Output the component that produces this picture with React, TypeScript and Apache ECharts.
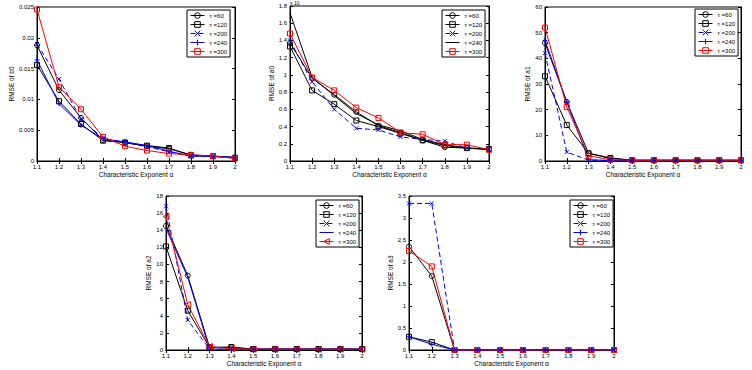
import React, { useEffect, useRef } from "react";
import * as echarts from "echarts";

const alphaLabels = ["1.1", "1.2", "1.3", "1.4", "1.5", "1.6", "1.7", "1.8", "1.9", "2"];
const tauLabels = ["τ =60", "τ =120", "τ =200", "τ =240", "τ =300"];

// RMSE of b0
const b0Tau60 = [0.0188, 0.0115, 0.007, 0.0034, 0.003, 0.0024, 0.002, 0.001, 0.0008, 0.0006];
const b0Tau120 = [0.0156, 0.0097, 0.006, 0.0033, 0.003, 0.0025, 0.0021, 0.0009, 0.0008, 0.0005];
const b0Tau200 = [0.019, 0.0133, 0.0068, 0.0037, 0.003, 0.0023, 0.0015, 0.0008, 0.0007, 0.0006];
const b0Tau240 = [0.0164, 0.0093, 0.0058, 0.0036, 0.0031, 0.0025, 0.0016, 0.0008, 0.0007, 0.0006];
const b0Tau300 = [0.0246, 0.012, 0.0084, 0.0039, 0.0024, 0.0017, 0.0012, 0.001, 0.0008, 0.0004];

// RMSE of a0 (x 10^-3)
const a0Tau60 = [1.37, 0.96, 0.77, 0.57, 0.41, 0.33, 0.24, 0.16, 0.15, 0.13];
const a0Tau120 = [1.33, 0.82, 0.66, 0.47, 0.4, 0.32, 0.24, 0.18, 0.15, 0.14];
const a0Tau200 = [1.4, 0.92, 0.6, 0.38, 0.36, 0.28, 0.25, 0.23, 0.15, 0.14];
const a0Tau240 = [1.72, 0.97, 0.76, 0.55, 0.42, 0.35, 0.25, 0.19, 0.15, 0.14];
const a0Tau300 = [1.48, 0.97, 0.82, 0.62, 0.5, 0.33, 0.31, 0.19, 0.19, 0.13];

// RMSE of a1
const a1Tau60 = [46, 23, 3, 1, 0.3, 0.3, 0.3, 0.3, 0.3, 0.3];
const a1Tau120 = [33, 14, 3, 1.2, 0.3, 0.3, 0.3, 0.3, 0.3, 0.3];
const a1Tau200 = [42, 3.5, 0.3, 0.2, 0.2, 0.2, 0.2, 0.2, 0.2, 0.2];
const a1Tau240 = [47, 23, 0.5, 0.2, 0.2, 0.2, 0.2, 0.2, 0.2, 0.2];
const a1Tau300 = [52, 21, 2, 0.5, 0.3, 0.3, 0.3, 0.3, 0.3, 0.3];

// RMSE of a2
const a2Tau60 = [14.5, 8.7, 0.3, 0.3, 0.1, 0.1, 0.1, 0.1, 0.1, 0.1];
const a2Tau120 = [12.1, 4.6, 0.3, 0.35, 0.1, 0.1, 0.1, 0.1, 0.1, 0.1];
const a2Tau200 = [16.8, 3.5, 0.1, 0.1, 0.1, 0.1, 0.1, 0.1, 0.1, 0.1];
const a2Tau240 = [14.2, 8.5, 0.1, 0.1, 0.1, 0.1, 0.1, 0.1, 0.1, 0.1];
const a2Tau300 = [15.6, 5.3, 0.4, 0.15, 0.1, 0.1, 0.1, 0.1, 0.1, 0.1];

// RMSE of a3
const a3Tau60 = [2.35, 1.68, 0, 0, 0, 0, 0, 0, 0, 0];
const a3Tau120 = [0.3, 0.18, 0, 0, 0, 0, 0, 0, 0, 0];
const a3Tau200 = [3.33, 3.33, 0, 0, 0, 0, 0, 0, 0, 0];
const a3Tau240 = [0.3, 0.13, 0, 0, 0, 0, 0, 0, 0, 0];
const a3Tau300 = [2.25, 1.9, 0, 0, 0, 0, 0, 0, 0, 0];

const FONT = "Liberation Sans, Arial, Helvetica, sans-serif";
const BLACK = "#000000";
const BLUE = "#0000ff";
const RED = "#ff0000";
const CLEAR = "rgba(255,255,255,0)";

const X_MARK = "path://M0,0L10,10M10,0L0,10";
const PLUS = "path://M5,0L5,10M0,5L10,5";
const TRI_LEFT = "path://M0,5L10,0L10,10Z";
const NO_MARK = "path://M0,0L1,1";

type Style = { color: string; dashed: boolean; symbol: string; size: number };

const baseStyles: Style[] = [
  { color: BLACK, dashed: false, symbol: "circle", size: 5 },
  { color: BLACK, dashed: false, symbol: "rect", size: 5 },
  { color: BLUE, dashed: true, symbol: X_MARK, size: 4 },
  { color: BLUE, dashed: false, symbol: PLUS, size: 5 },
  { color: RED, dashed: false, symbol: "rect", size: 5 },
];

const panels = [
  {
    key: "b0", yName: "RMSE of b0", min: 0, max: 0.025, interval: 0.005,
    grid: { left: 37, top: 7, width: 198, height: 154 }, nameGap: 20,
    legend: { left: 187, top: 10 },
    data: [b0Tau60, b0Tau120, b0Tau200, b0Tau240, b0Tau300],
    styles: baseStyles,
  },
  {
    key: "a0", yName: "RMSE of a0", min: 0, max: 1.8, interval: 0.2,
    grid: { left: 290, top: 6, width: 199, height: 155 }, nameGap: 13,
    legend: { left: 442, top: 10 },
    data: [a0Tau60, a0Tau120, a0Tau200, a0Tau240, a0Tau300],
    styles: [baseStyles[0], baseStyles[1], baseStyles[2], { color: BLACK, dashed: false, symbol: NO_MARK, size: 5 }, baseStyles[4]],
  },
  {
    key: "a1", yName: "RMSE of a1", min: 0, max: 60, interval: 10,
    grid: { left: 545, top: 7, width: 196, height: 154 }, nameGap: 12,
    legend: { left: 695, top: 9 },
    data: [a1Tau60, a1Tau120, a1Tau200, a1Tau240, a1Tau300],
    styles: baseStyles,
  },
  {
    key: "a2", yName: "RMSE of a2", min: 0, max: 18, interval: 2,
    grid: { left: 166, top: 196, width: 196, height: 154 }, nameGap: 14,
    legend: { left: 316, top: 200 },
    data: [a2Tau60, a2Tau120, a2Tau200, a2Tau240, a2Tau300],
    styles: [baseStyles[0], baseStyles[1], baseStyles[2], { color: BLUE, dashed: false, symbol: NO_MARK, size: 5 }, { color: RED, dashed: false, symbol: TRI_LEFT, size: 6 }],
  },
  {
    key: "a3", yName: "RMSE of a3", min: 0, max: 3.5, interval: 0.5,
    grid: { left: 409, top: 196, width: 205, height: 154 }, nameGap: 6,
    legend: { left: 570, top: 200 },
    data: [a3Tau60, a3Tau120, a3Tau200, a3Tau240, a3Tau300],
    styles: baseStyles,
  },
];

export default function App() {
  const ref = useRef<HTMLDivElement>(null);
  useEffect(() => {
    if (!ref.current) return;
    const chart = echarts.init(ref.current, undefined, { renderer: "svg" });
    const grids: any[] = [];
    const xAxes: any[] = [];
    const yAxes: any[] = [];
    const series: any[] = [];
    const legends: any[] = [];
    panels.forEach((p, gi) => {
      grids.push({ ...p.grid, show: true, borderColor: BLACK, borderWidth: 1, backgroundColor: "#fff", containLabel: false });
      const tickStyle = { show: true, inside: true, length: 3, lineStyle: { color: BLACK, width: 1 } };
      xAxes.push({
        type: "category", gridIndex: gi, data: alphaLabels, boundaryGap: false,
        axisLine: { show: true, lineStyle: { color: BLACK, width: 1 } },
        axisTick: tickStyle,
        axisLabel: { fontSize: 6, color: BLACK, margin: 3, fontFamily: FONT },
        splitLine: { show: false },
        name: "Characteristic Exponent α", nameLocation: "middle", nameGap: 10,
        nameTextStyle: { fontSize: 6.5, color: BLACK, fontFamily: FONT },
      });
      xAxes.push({
        type: "category", gridIndex: gi, data: alphaLabels, boundaryGap: false, position: "top",
        axisLine: { show: true, lineStyle: { color: BLACK, width: 1 } },
        axisTick: tickStyle, axisLabel: { show: false }, splitLine: { show: false },
      });
      yAxes.push({
        type: "value", gridIndex: gi, min: p.min, max: p.max, interval: p.interval,
        axisLine: { show: true, lineStyle: { color: BLACK, width: 1 } },
        axisTick: tickStyle,
        axisLabel: { fontSize: 6, color: BLACK, margin: 3, fontFamily: FONT },
        splitLine: { show: false },
        name: p.yName, nameLocation: "middle", nameGap: p.nameGap,
        nameTextStyle: { fontSize: 6.5, color: BLACK, fontFamily: FONT },
      });
      yAxes.push({
        type: "value", gridIndex: gi, min: p.min, max: p.max, interval: p.interval, position: "right",
        axisLine: { show: true, lineStyle: { color: BLACK, width: 1 } },
        axisTick: tickStyle, axisLabel: { show: false }, splitLine: { show: false },
      });
      const legendItems: any[] = [];
      p.data.forEach((vals, si) => {
        const st = p.styles[si];
        const name = p.key + "|" + tauLabels[si];
        const noMark = st.symbol === NO_MARK;
        legendItems.push(noMark
          ? { name, itemStyle: { color: CLEAR, borderColor: CLEAR, borderWidth: 0 } }
          : { name });
        series.push({
          type: "line", name, xAxisIndex: gi * 2, yAxisIndex: gi * 2,
          data: vals, symbol: st.symbol, symbolSize: st.size,
          showAllSymbol: true,
          lineStyle: { color: st.color, width: 1, type: st.dashed ? [5, 3] : "solid" },
          itemStyle: {
            color: CLEAR,
            borderColor: noMark ? CLEAR : st.color, borderWidth: noMark ? 0 : 1,
          },
          emphasis: { disabled: true },
          clip: false,
        });
      });
      legends.push({
        data: legendItems, orient: "vertical", left: p.legend.left, top: p.legend.top,
        itemWidth: 14, itemHeight: 7, itemGap: 2, padding: [2, 3, 2, 3],
        borderColor: BLACK, borderWidth: 1, backgroundColor: "#fff",
        selectedMode: false,
        itemStyle: { color: CLEAR, borderWidth: 1 },
        lineStyle: { width: 1 },
        textStyle: { fontSize: 6, color: BLACK, fontFamily: FONT, lineHeight: 7 },
        formatter: (n: string) => n.split("|")[1],
      });
    });
    chart.setOption({
      animation: false,
      backgroundColor: "#fff",
      textStyle: { fontFamily: FONT },
      grid: grids,
      xAxis: xAxes,
      yAxis: yAxes,
      series,
      legend: legends,
      graphic: [
        { type: "text", left: 290, top: 0, style: { text: "x 10", fontSize: 5, fill: BLACK, fontFamily: FONT } },
      ],
    });
    return () => chart.dispose();
  }, []);
  return <div ref={ref} style={{ position: "fixed", left: 0, top: 0, width: 752, height: 370 }} />;
}
